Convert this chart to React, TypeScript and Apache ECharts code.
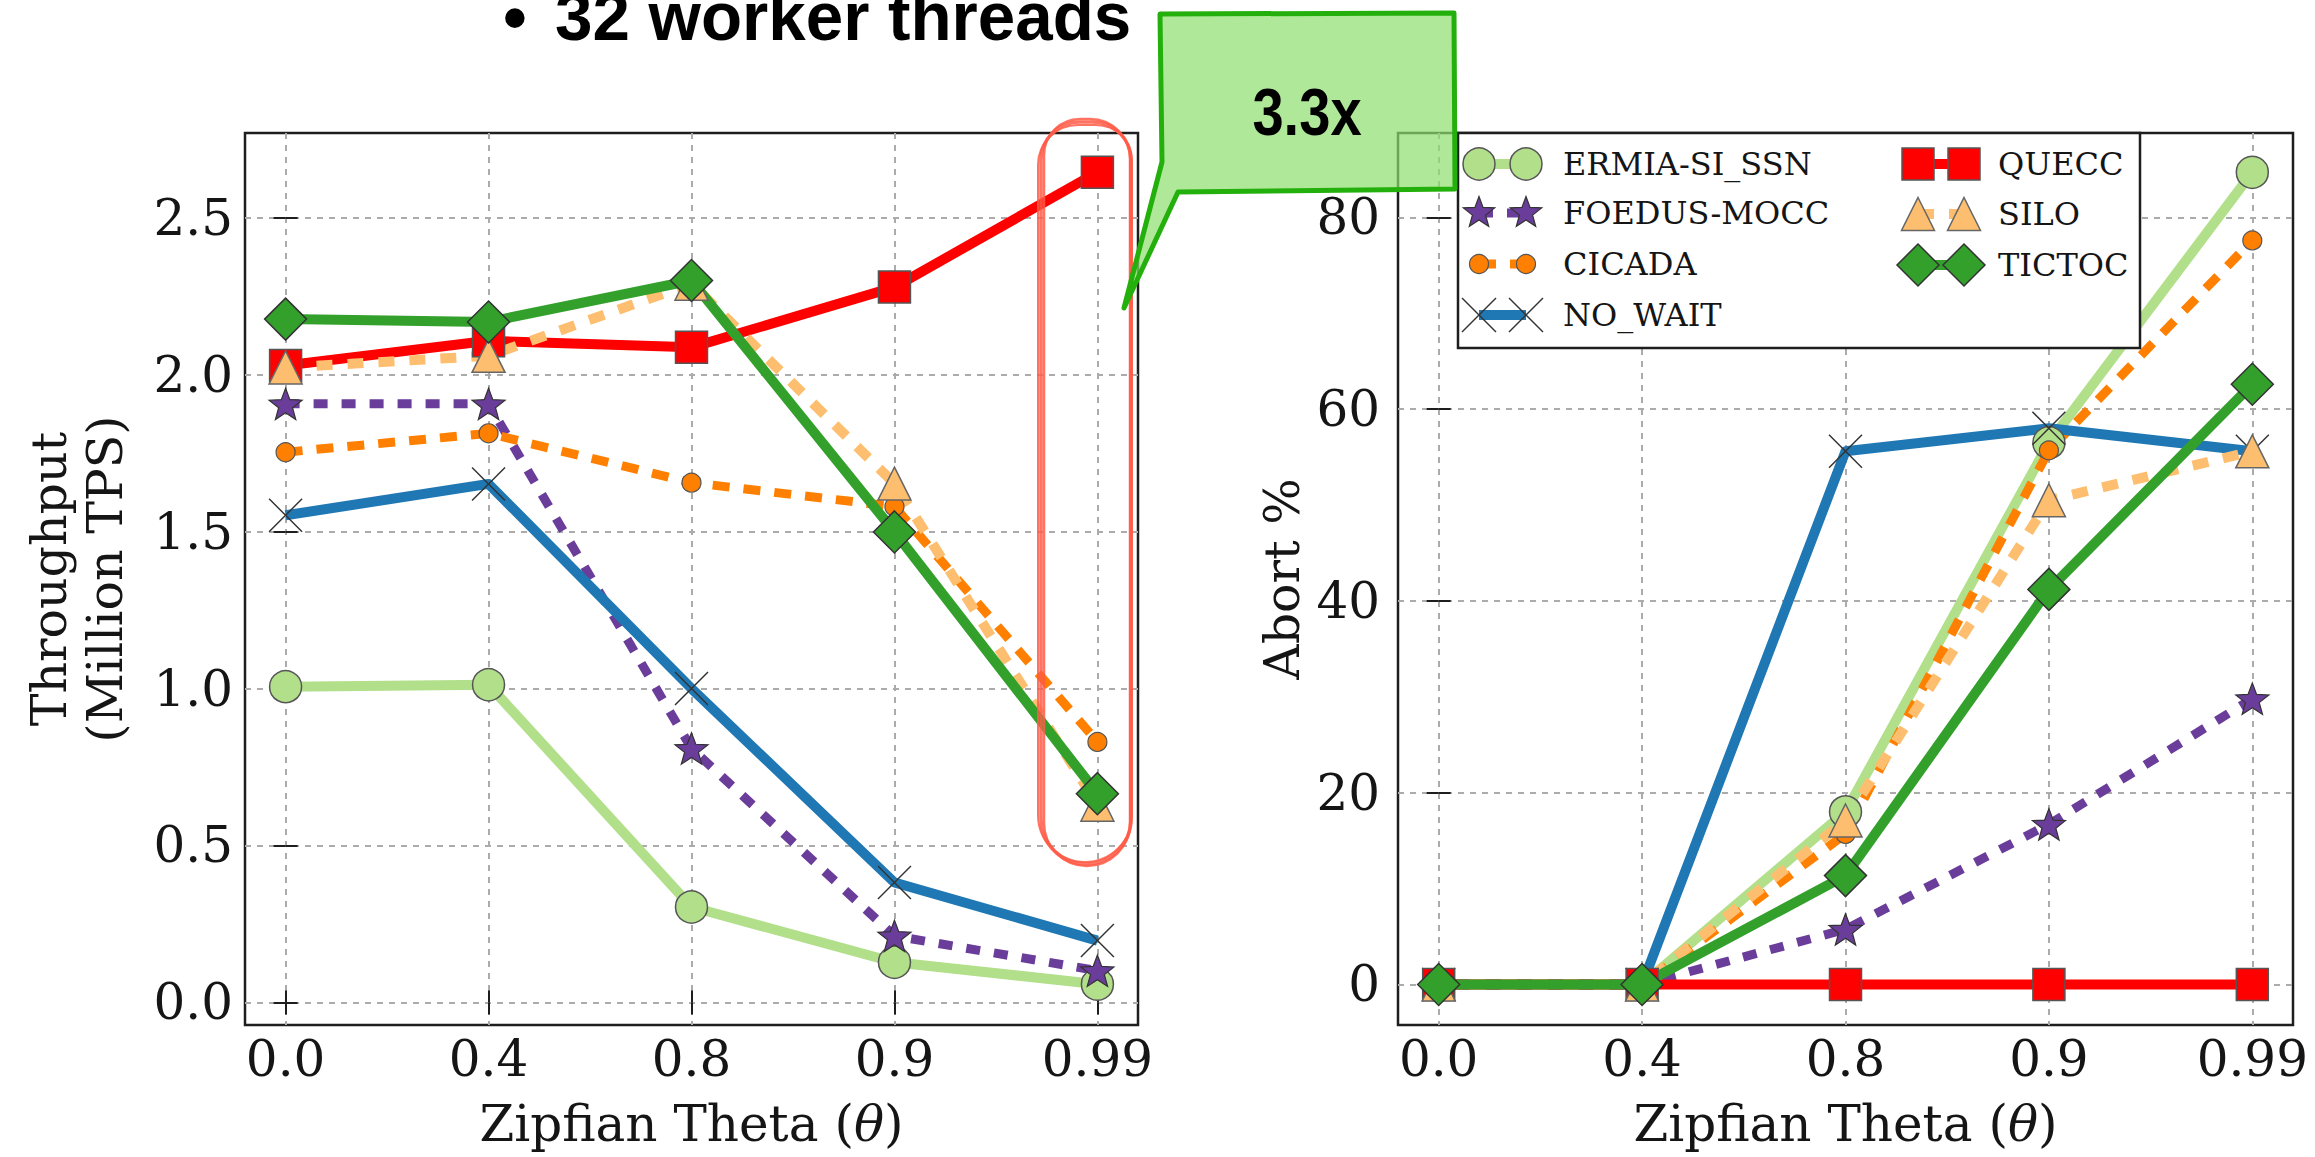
import React, { useEffect, useRef } from 'react';
import * as echarts from 'echarts';

// ---------------- data ----------------
const thetaLabels = ['0.0', '0.4', '0.8', '0.9', '0.99'];
const thetaIndex = [0, 1, 2, 3, 4];
const seriesNames = ['ERMIA-SI_SSN', 'FOEDUS-MOCC', 'CICADA', 'NO_WAIT', 'QUECC', 'SILO', 'TICTOC'];

// Throughput (Million TPS)
const throughputErmia = [1.006, 1.012, 0.304, 0.128, 0.058];
const throughputFoedus = [1.907, 1.907, 0.809, 0.212, 0.101];
const throughputCicada = [1.753, 1.813, 1.656, 1.58, 0.83];
const throughputNoWait = [1.552, 1.652, 1.0, 0.382, 0.197];
const throughputQuecc = [2.029, 2.108, 2.087, 2.279, 2.645];
const throughputSilo = [2.023, 2.06, 2.29, 1.653, 0.63];
const throughputTictoc = [2.177, 2.168, 2.3, 1.499, 0.665];

// Abort %
const abortErmia = [0, 0, 18.0, 56.5, 84.7];
const abortFoedus = [0, 0, 5.75, 16.7, 29.8];
const abortCicada = [0, 0, 15.7, 55.7, 77.6];
const abortNoWait = [0, 0, 55.6, 58.0, 55.6];
const abortQuecc = [0, 0, 0, 0, 0];
const abortSilo = [0, 0, 17.1, 50.5, 55.6];
const abortTictoc = [0, 0, 11.35, 41.2, 62.6];

const throughputTicks = [0, 0.5, 1.0, 1.5, 2.0, 2.5];
const abortTicks = [0, 20, 40, 60, 80];

const throughputData = [throughputErmia, throughputFoedus, throughputCicada, throughputNoWait, throughputQuecc, throughputSilo, throughputTictoc];
const abortData = [abortErmia, abortFoedus, abortCicada, abortNoWait, abortQuecc, abortSilo, abortTictoc];

// ---------------- styles ----------------
const SERIF = "'DejaVu Serif', 'Liberation Serif', serif";
const SANS = "'Liberation Sans', Arial, sans-serif";
const INK = '#151515';

function starPoints(cx: number, cy: number, R: number) {
  const pts: number[][] = [];
  for (let k = 0; k < 10; k++) {
    const a = -Math.PI / 2 + (k * Math.PI) / 5;
    const r = k % 2 === 0 ? R : R * 0.42;
    pts.push([cx + r * Math.cos(a), cy + r * Math.sin(a)]);
  }
  return pts;
}
const STAR_PATH =
  'path://' +
  starPoints(50, 50, 50)
    .map((p, i) => (i ? 'L' : 'M') + p[0].toFixed(2) + ',' + p[1].toFixed(2))
    .join(' ') +
  ' Z';
const X_PATH = 'path://M0,3 L3,0 L50,47 L97,0 L100,3 L53,50 L100,97 L97,100 L50,53 L3,100 L0,97 L47,50 Z';

const seriesStyles: any[] = [
  { line: '#b2df8a', width: 10, dash: 'solid', symbol: 'circle', size: 32, fill: '#b2df8a', edge: '#555', edgeW: 1.5 },
  { line: '#6a3d9a', width: 9, dash: [14, 14], symbol: STAR_PATH, size: 33, fill: '#6a3d9a', edge: '#333', edgeW: 1.2 },
  { line: '#ff7f00', width: 9, dash: [17, 14], symbol: 'circle', size: 19, fill: '#ff7f00', edge: '#555', edgeW: 1.2 },
  { line: '#1f78b4', width: 10, dash: 'solid', symbol: X_PATH, size: 34, fill: '#333', edge: '#333', edgeW: 0 },
  { line: '#ff0000', width: 10, dash: 'solid', symbol: 'rect', size: 32, fill: '#ff0000', edge: '#555', edgeW: 1.5 },
  { line: '#fdbf6f', width: 10, dash: [16, 15], symbol: 'triangle', size: 33, fill: '#fdbf6f', edge: '#666', edgeW: 1.5 },
  { line: '#33a02c', width: 10, dash: 'solid', symbol: 'diamond', size: 42, fill: '#33a02c', edge: '#333', edgeW: 1.5 },
];

const gridLine = { show: true, lineStyle: { color: '#ababab', width: 2, type: [6, 6] } };
const tickStyle = { color: '#1e1e1e', width: 2 };

function xAxes(gridIndex: number) {
  return [
    {
      type: 'value', gridIndex, min: -0.2, max: 4.2, position: 'bottom',
      axisLine: { show: false },
      axisTick: { show: true, inside: true, length: 12, customValues: thetaIndex, lineStyle: tickStyle },
      axisLabel: {
        show: true, customValues: thetaIndex, margin: 9,
        formatter: (v: number) => thetaLabels[Math.round(v)],
        fontFamily: SERIF, fontSize: 50, color: INK,
      },
      splitLine: gridLine,
      name: 'Zipfian Theta ({it|θ})',
      nameLocation: 'middle', nameGap: 74,
      nameTextStyle: {
        fontFamily: SERIF, fontSize: 50, color: INK, verticalAlign: 'top',
        rich: { it: { fontFamily: SERIF, fontSize: 50, fontStyle: 'italic', color: INK } },
      },
    },
    {
      type: 'value', gridIndex, min: -0.2, max: 4.2, position: 'top',
      axisLine: { show: false },
      axisTick: { show: true, inside: true, length: 12, customValues: thetaIndex, lineStyle: tickStyle },
      axisLabel: { show: false },
      splitLine: { show: false },
    },
  ];
}

function yAxes(gridIndex: number, min: number, max: number, ticks: number[], fmt: (v: number) => string, name: string, nameGap: number, margin: number) {
  return [
    {
      type: 'value', gridIndex, min, max, position: 'left',
      axisLine: { show: false },
      axisTick: { show: true, inside: true, length: 12, customValues: ticks, lineStyle: tickStyle },
      axisLabel: { show: true, customValues: ticks, formatter: fmt, margin, fontFamily: SERIF, fontSize: 50, color: INK },
      splitLine: gridLine,
      name, nameLocation: 'middle', nameGap, nameRotate: 90,
      nameTextStyle: { fontFamily: SERIF, fontSize: 49, lineHeight: 56, color: INK },
    },
    {
      type: 'value', gridIndex, min, max, position: 'right',
      axisLine: { show: false },
      axisTick: { show: true, inside: true, length: 12, customValues: ticks, lineStyle: tickStyle },
      axisLabel: { show: false },
      splitLine: { show: false },
    },
  ];
}

function makeSeries(data: number[][], xi: number, yi: number) {
  return seriesNames.map((name, k) => {
    const st = seriesStyles[k];
    return {
      name, type: 'line', xAxisIndex: xi, yAxisIndex: yi,
      data: data[k].map((v, i) => [thetaIndex[i], v]),
      symbol: st.symbol, symbolSize: st.size, symbolKeepAspect: true, showAllSymbol: true,
      lineStyle: { color: st.line, width: st.width, type: st.dash, cap: 'butt', join: 'round' },
      itemStyle: { color: st.fill, borderColor: st.edge, borderWidth: st.edgeW, opacity: 1 },
      emphasis: { disabled: true },
      clip: false,
      z: 2,
    };
  });
}

// ---------------- legend (drawn as graphic) ----------------
function legendMarker(k: number, cx: number, cy: number): any[] {
  const st = seriesStyles[k];
  const style = { fill: st.fill, stroke: st.edge, lineWidth: st.edgeW };
  const z = 102;
  const h = st.size / 2;
  if (k === 0 || k === 2) return [{ type: 'circle', z, shape: { cx, cy, r: h }, style }];
  if (k === 1) return [{ type: 'polygon', z, shape: { points: starPoints(cx, cy, h) }, style }];
  if (k === 3)
    return [
      { type: 'line', z, shape: { x1: cx - h, y1: cy - h, x2: cx + h, y2: cy + h }, style: { stroke: '#333', lineWidth: 1.5 } },
      { type: 'line', z, shape: { x1: cx - h, y1: cy + h, x2: cx + h, y2: cy - h }, style: { stroke: '#333', lineWidth: 1.5 } },
    ];
  if (k === 4) return [{ type: 'rect', z, shape: { x: cx - h, y: cy - h, width: st.size, height: st.size }, style }];
  if (k === 5) return [{ type: 'polygon', z, shape: { points: [[cx, cy - h], [cx + h, cy + h], [cx - h, cy + h]] }, style }];
  return [{ type: 'polygon', z, shape: { points: [[cx, cy - h], [cx + h, cy], [cx, cy + h], [cx - h, cy]] }, style }];
}

const legendCols = [
  { m1: 1479, m2: 1526, tx: 1563, rows: [164, 213, 264, 315], items: [0, 1, 2, 3] },
  { m1: 1918, m2: 1964, tx: 1998, rows: [164, 214, 265], items: [4, 5, 6] },
];

function legendGraphic(): any[] {
  const els: any[] = [
    { type: 'rect', z: 100, shape: { x: 1458, y: 133, width: 682, height: 215 }, style: { fill: '#fff', stroke: '#1e1e1e', lineWidth: 2.5 } },
  ];
  legendCols.forEach((col) => {
    col.items.forEach((k, r) => {
      const st = seriesStyles[k];
      const y = col.rows[r];
      els.push({
        type: 'line', z: 101,
        shape: { x1: col.m1, y1: y, x2: col.m2, y2: y },
        style: { stroke: st.line, lineWidth: st.width, lineDash: Array.isArray(st.dash) ? st.dash : null },
      });
      els.push(...legendMarker(k, col.m1, y));
      els.push(...legendMarker(k, col.m2, y));
      els.push({
        type: 'text', z: 102, x: col.tx, y,
        style: { text: seriesNames[k], fontFamily: SERIF, fontSize: 32, fill: INK, align: 'left', verticalAlign: 'middle', textAlign: 'left', textVerticalAlign: 'middle' },
      });
    });
  });
  return els;
}

function annotationGraphic(): any[] {
  const red = 'rgba(255,90,70,0.85)';
  return [
    { type: 'rect', z: 110, shape: { x: 1041, y: 122, width: 90, height: 742, r: [38, 38, 45, 45] }, style: { fill: 'none', stroke: red, lineWidth: 3.5 } },
    { type: 'rect', z: 110, shape: { x: 1044, y: 119, width: 86, height: 747, r: [36, 40, 43, 43] }, style: { fill: 'none', stroke: red, lineWidth: 2.5 } },
    { type: 'rect', z: 110, shape: { x: 1038, y: 125, width: 94, height: 737, r: [40, 36, 47, 47] }, style: { fill: 'none', stroke: red, lineWidth: 2 } },
    {
      type: 'polygon', z: 120,
      shape: { points: [[1160, 14], [1454, 13], [1455, 189], [1178, 192], [1124, 308], [1162, 162]] },
      style: { fill: 'rgba(142,222,111,0.7)', stroke: '#24b00c', lineWidth: 5, lineJoin: 'round' },
    },
    {
      type: 'text', z: 130, x: 1307, y: 112, scaleX: 0.85,
      style: { text: '3.3x', fontFamily: SANS, fontWeight: 'bold', fontSize: 66, fill: '#000', align: 'center', verticalAlign: 'middle', textAlign: 'center', textVerticalAlign: 'middle' },
    },
    {
      type: 'text', z: 130, x: 503, y: 17,
      style: { text: '•', fontFamily: SANS, fontWeight: 'bold', fontSize: 68, fill: '#000', align: 'left', verticalAlign: 'middle', textAlign: 'left', textVerticalAlign: 'middle' },
    },
    {
      type: 'text', z: 130, x: 555, y: 16, scaleX: 0.99,
      style: { text: '32 worker threads', fontFamily: SANS, fontWeight: 'bold', fontSize: 68, fill: '#000', align: 'left', verticalAlign: 'middle', textAlign: 'left', textVerticalAlign: 'middle' },
    },
  ];
}

const gridBase = { show: true, borderColor: '#1e1e1e', borderWidth: 2.5, backgroundColor: 'transparent', containLabel: false, outerBoundsMode: 'none' };

const option: any = {
  animation: false,
  backgroundColor: '#ffffff',
  grid: [
    { ...gridBase, left: 245, top: 133, width: 893, height: 892 },
    { ...gridBase, left: 1398, top: 133, width: 895, height: 892 },
  ],
  xAxis: [...xAxes(0), ...xAxes(1)],
  yAxis: [
    ...yAxes(0, -0.072, 2.77, throughputTicks, (v: number) => v.toFixed(1), 'Throughput\n(Million TPS)', 112, 12),
    ...yAxes(1, -4.23, 88.8, abortTicks, (v: number) => String(Math.round(v)), 'Abort %', 88, 18),
  ],
  series: [...makeSeries(throughputData, 0, 0), ...makeSeries(abortData, 2, 2)],
  graphic: { elements: [...legendGraphic(), ...annotationGraphic()] },
};

export default function App() {
  const ref = useRef<HTMLDivElement>(null);
  useEffect(() => {
    document.body.style.margin = '0';
    document.body.style.overflow = 'hidden';
    const chart = echarts.init(ref.current as HTMLDivElement, null, { renderer: 'svg', width: 2315, height: 1157 });
    chart.setOption(option);
    return () => chart.dispose();
  }, []);
  return <div ref={ref} style={{ width: 2315, height: 1157, background: '#fff' }} />;
}
